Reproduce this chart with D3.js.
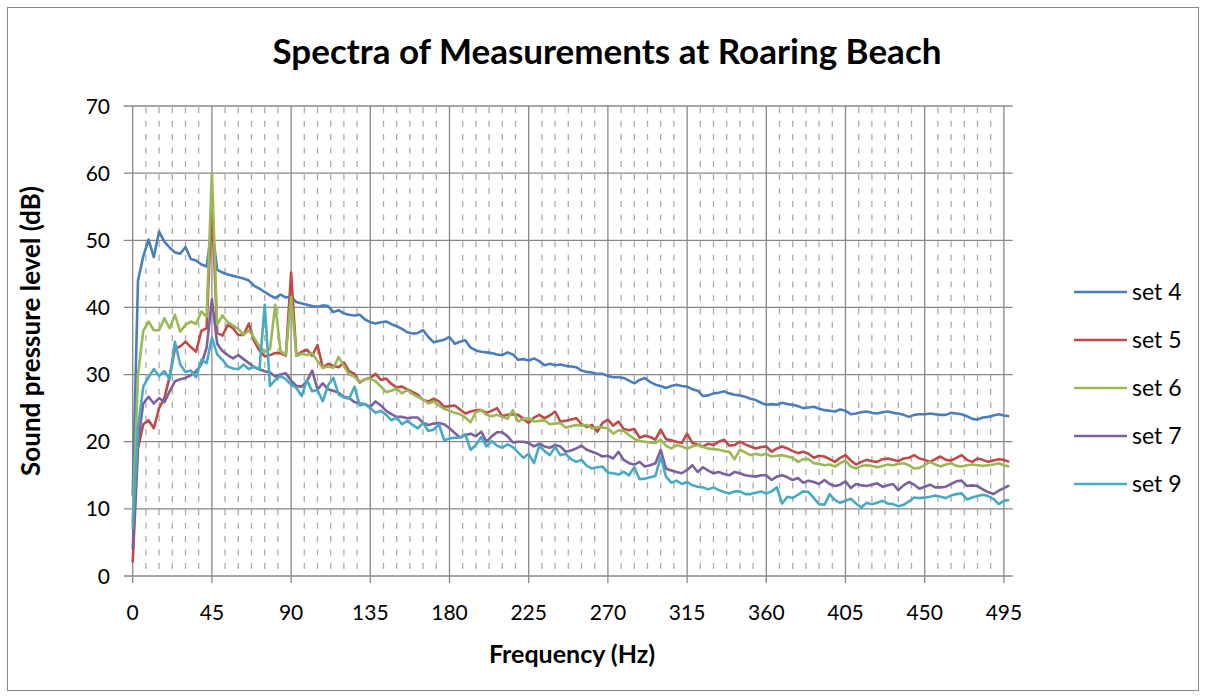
<!DOCTYPE html>
<html>
<head>
<meta charset="utf-8">
<script src="https://cdn.jsdelivr.net/npm/d3@7"></script>
<style>
  body { margin: 0; background: #fff; }
  text { font-family: Lato, "Noto Sans", sans-serif; fill: #000; }
</style>
</head>
<body>
<svg id="chart"></svg>
<script>
const width = 1205;
const height = 698;

// frequency bins (Hz)
const freq = [
  0,3,6,9,12,15,18,21,24,27,
  30,33,36,39,42,45,48,51,54,57,
  60,63,66,69,72,75,78,81,84,87,
  90,93,96,99,102,105,108,111,114,117,
  120,123,126,129,132,135,138,141,144,147,
  150,153,156,159,162,165,168,171,174,177,
  180,183,186,189,192,195,198,201,204,207,
  210,213,216,219,222,225,228,231,234,237,
  240,243,246,249,252,255,258,261,264,267,
  270,273,276,279,282,285,288,291,294,297,
  300,303,306,309,312,315,318,321,324,327,
  330,333,336,339,342,345,348,351,354,357,
  360,363,366,369,372,375,378,381,384,387,
  390,393,396,399,402,405,408,411,414,417,
  420,423,426,429,432,435,438,441,444,447,
  450,453,456,459,462,465,468,471,474,477,
  480,483,486,489,492,495,498
];

const set4 = [
  12,44,47.6,50.1,47.5,51.3,49.8,48.9,48.2,48.0,
  49.0,47.2,47.0,46.4,46.1,52,45.6,45.2,44.9,44.7,
  44.5,44.3,44.0,43.2,42.8,42.3,41.8,41.4,41.9,41.5,
  41.6,40.8,40.6,40.4,40.2,40.1,40.3,40.2,39.3,39.6,
  39.1,38.9,38.8,38.9,38.2,37.8,37.6,37.8,37.9,37.5,
  37.2,36.8,36.3,36.1,36.2,36.6,35.6,34.8,35.0,35.2,
  35.6,34.6,34.9,35.1,34.0,33.6,33.4,33.3,33.2,33.0,
  32.9,33.3,33.0,32.2,32.3,32.1,32.4,32.0,31.4,31.6,
  31.4,31.5,31.3,31.2,31.1,30.6,30.4,30.3,30.1,30.1,
  29.8,29.6,29.6,29.5,29.1,28.7,29.2,29.5,28.9,28.5,
  28.3,28.0,28.3,28.5,28.3,28.2,27.8,27.6,26.8,26.9,
  27.2,27.3,27.5,27.2,27.0,26.9,26.7,26.4,26.2,25.8,
  25.5,25.6,25.5,25.8,25.6,25.5,25.3,25.0,25.1,25.2,
  24.9,24.7,24.6,24.5,24.8,24.6,24.1,24.2,24.4,24.5,
  24.3,24.2,24.4,24.5,24.3,24.2,24.0,23.7,24.0,24.1,
  24.1,24.2,24.1,24.0,24.0,24.3,24.2,24.1,23.8,23.4,
  23.3,23.6,23.7,23.9,24.1,23.9,23.8
];

const set5 = [
  2,19,22.6,23.2,22.0,25.0,26.5,29.7,33.8,34.2,
  34.9,34.1,33.4,36.5,36.9,56,36.2,35.8,37.4,36.9,
  35.9,35.9,37.6,35.0,33.6,32.7,32.9,33.2,33.2,32.8,
  45.2,32.8,33.4,33.7,32.8,34.4,31.0,31.6,31.3,31.1,
  31.8,30.5,30.1,28.8,29.3,29.5,30.1,29.2,29.4,28.6,
  28.1,28.2,27.8,27.4,27.0,26.2,26.0,26.4,26.0,25.2,
  25.3,25.4,24.8,24.2,24.5,24.7,24.7,24.3,24.6,25.0,
  23.8,24.0,24.1,24.0,23.4,22.8,23.6,24.0,23.5,23.9,
  24.5,23.0,23.1,23.3,23.5,22.6,22.2,22.5,21.5,22.8,
  23.3,22.4,23.0,21.9,21.7,21.9,20.6,20.9,20.7,20.3,
  21.8,20.4,20.2,20.0,19.8,21.2,19.8,19.6,19.3,19.7,
  19.5,20.0,20.3,19.4,19.5,20.0,19.6,19.3,19.0,19.2,
  19.3,18.5,19.0,19.3,19.0,18.6,18.3,18.5,18.2,17.6,
  17.9,17.8,17.4,17.0,17.6,18.0,17.2,16.6,17.0,17.3,
  17.1,17.0,17.4,17.5,17.3,17.1,17.5,17.6,18.0,17.5,
  17.3,17.0,17.4,17.8,17.3,17.2,17.6,18.0,17.3,17.0,
  17.5,17.3,17.0,17.2,17.4,17.3,17.0
];

const set6 = [
  8,30,36.5,37.9,36.6,36.6,38.4,36.9,38.9,36.4,
  37.4,37.9,37.5,39.4,38.6,60,37.4,38.8,37.8,37.3,
  36.8,35.9,36.6,35.5,34.2,33.4,33.8,40.4,33.5,32.9,
  41.6,32.8,33.1,32.9,33.2,32.0,31.0,31.2,31.0,32.6,
  31.3,30.0,29.7,28.9,29.3,29.4,29.0,28.2,27.4,27.6,
  27.9,27.2,27.7,27.1,26.7,26.3,25.7,26.0,25.4,24.9,
  24.6,24.3,24.1,23.6,22.9,24.4,24.7,24.0,23.8,24.0,
  23.7,23.4,24.7,23.0,23.4,23.5,23.0,23.1,23.2,22.6,
  22.7,22.8,22.1,22.3,22.5,22.4,22.5,22.0,22.2,22.1,
  22.0,21.2,21.7,21.6,21.0,20.4,20.1,20.0,19.9,19.8,
  20.3,19.4,19.0,19.5,19.3,19.0,19.3,19.5,19.2,19.0,
  18.9,18.8,18.6,18.5,17.4,18.8,18.4,18.0,18.2,18.0,
  18.2,17.8,17.9,18.0,17.8,17.6,17.0,17.4,17.4,16.8,
  16.7,16.5,16.6,16.3,16.8,17.2,16.3,16.0,16.4,16.5,
  16.4,16.2,16.4,16.6,16.5,16.7,16.8,16.5,16.0,16.1,
  16.5,17.0,16.6,16.3,16.6,16.8,16.4,16.3,16.5,16.6,
  16.5,16.4,16.5,16.6,16.8,16.5,16.3
];

const set7 = [
  4,20,25.7,26.7,25.7,26.5,25.9,27.5,29.0,29.3,
  29.5,29.9,30.5,31.5,34.0,41.2,34.6,33.5,32.9,32.4,
  32.9,32.3,31.7,31.1,30.8,30.5,30.3,29.7,30.0,30.2,
  29.1,28.3,28.2,29.0,30.6,27.8,28.7,27.8,27.6,27.3,
  26.7,26.5,25.9,25.7,25.6,25.2,26.0,25.4,24.6,24.1,
  23.7,23.7,23.5,23.6,23.6,22.8,22.5,22.7,22.8,22.6,
  22.0,21.3,20.6,21.0,21.2,20.8,21.5,20.0,20.8,21.4,
  21.4,20.8,19.9,20.0,20.0,19.8,19.3,19.7,19.3,19.1,
  19.5,19.3,18.5,18.7,19.0,19.4,18.8,18.5,18.2,17.8,
  17.9,17.5,18.5,17.3,16.8,16.6,17.0,16.3,16.5,16.8,
  18.8,16.0,15.7,15.5,15.3,15.8,16.5,15.5,16.2,15.7,
  15.3,15.5,15.2,15.0,15.5,15.3,15.0,14.9,14.8,15.0,
  15.0,14.3,14.8,15.0,14.7,14.3,14.6,13.9,14.2,14.0,
  13.7,14.3,13.7,13.4,13.6,14.1,13.1,13.7,13.5,13.4,
  13.6,13.8,13.3,13.5,13.7,12.8,13.5,14.0,13.6,13.0,
  13.3,13.6,13.2,13.2,13.3,13.7,14.1,14.2,13.4,13.5,
  13.4,12.9,12.5,12.2,12.7,13.1,13.5
];

const set9 = [
  7,22,28.2,29.6,30.8,29.8,30.5,29.3,34.9,31.5,
  30.4,30.6,29.6,32.2,31.7,35.5,33.0,32.2,31.2,30.9,
  30.8,31.5,30.8,31.2,30.7,40.4,28.3,29.2,29.8,29.3,
  28.5,28.0,26.8,29.2,27.5,27.7,26.0,28.4,29.5,27.0,
  26.6,26.4,28.2,25.4,25.6,25.0,24.3,24.6,24.0,23.2,
  23.6,22.6,23.1,22.5,22.0,22.8,21.6,21.8,22.6,20.2,
  20.5,20.6,20.6,21.1,18.8,19.5,20.7,19.3,20.1,19.4,
  19.1,19.6,19.2,18.4,17.6,18.2,16.8,19.4,18.6,18.0,
  19.2,18.0,18.2,17.4,17.0,17.3,16.4,16.0,16.2,16.3,
  15.4,15.3,15.1,15.5,15.0,16.2,14.4,14.5,14.7,14.9,
  17.8,14.8,13.9,14.2,13.7,14.0,13.5,13.3,13.2,12.9,
  13.2,12.8,12.5,12.3,12.6,12.6,12.2,12.2,12.4,12.6,
  12.3,12.6,13.2,10.8,11.8,11.6,12.1,12.6,12.5,11.6,
  10.7,10.6,12.2,11.3,10.9,11.2,11.5,10.8,10.2,10.9,
  10.7,10.9,11.2,10.8,10.7,10.4,10.6,11.1,11.7,11.6,
  11.7,11.8,12.0,11.8,11.6,12.0,12.2,12.3,11.4,11.7,
  11.9,12.1,11.9,11.5,10.7,11.2,11.3
];

const seriesNames = ["set 4", "set 5", "set 6", "set 7", "set 9"];
const seriesValues = [set4, set5, set6, set7, set9];
const seriesColors = ["#4A7EBB", "#BE4B48", "#98B954", "#7D60A0", "#46AAC5"];
const xTicks = [0, 45, 90, 135, 180, 225, 270, 315, 360, 405, 450, 495];
const yTicks = [0, 10, 20, 30, 40, 50, 60, 70];

const svg = d3.select("#chart").attr("width", width).attr("height", height);

// chart area border
svg.append("rect").attr("x", 7.5).attr("y", 7.5).attr("width", 1191).attr("height", 683)
  .attr("fill", "#fff").attr("stroke", "#868686").attr("stroke-width", 1);

const plot = { left: 132.7, right: 1012.7, top: 106, bottom: 576 };
const x = d3.scaleLinear().domain([0, 500]).range([plot.left, plot.right]);
const y = d3.scaleLinear().domain([0, 70]).range([plot.bottom, plot.top]);

// minor vertical gridlines (dashed), every 7.5 Hz
const minor = d3.range(7.5, 500, 7.5).filter(v => v % 45 !== 0);
svg.append("g").selectAll("line").data(minor).enter().append("line")
  .attr("x1", d => x(d)).attr("x2", d => x(d))
  .attr("y1", plot.top).attr("y2", plot.bottom)
  .attr("stroke", "#ababab").attr("stroke-width", 1.3)
  .attr("stroke-dasharray", "6,7.4").attr("stroke-dashoffset", -1.3);

// major gridlines
svg.append("g").selectAll("line").data(yTicks).enter().append("line")
  .attr("x1", plot.left - 9).attr("x2", plot.right)
  .attr("y1", d => y(d)).attr("y2", d => y(d))
  .attr("stroke", "#878787").attr("stroke-width", 1.3);
svg.append("g").selectAll("line").data(xTicks).enter().append("line")
  .attr("x1", d => x(d)).attr("x2", d => x(d))
  .attr("y1", plot.top).attr("y2", plot.bottom + 7)
  .attr("stroke", "#878787").attr("stroke-width", 1.3);

// axis labels
svg.append("g").selectAll("text").data(yTicks).enter().append("text")
  .attr("x", 110).attr("y", d => y(d)).attr("dy", "0.36em")
  .attr("text-anchor", "end").style("font-size", "21px").text(d => d);
svg.append("g").selectAll("text").data(xTicks).enter().append("text")
  .attr("x", d => x(d)).attr("y", 620)
  .attr("text-anchor", "middle").style("font-size", "21px").text(d => d);

// series lines
const line = d3.line().x((d, i) => x(freq[i])).y(d => y(d));
svg.append("g").selectAll("path").data(seriesValues).enter().append("path")
  .attr("d", d => line(d))
  .attr("fill", "none")
  .attr("stroke", (d, i) => seriesColors[i])
  .attr("stroke-width", 2.6)
  .attr("stroke-linejoin", "round");

// title
svg.append("text").attr("x", 607).attr("y", 64).attr("text-anchor", "middle")
  .style("font-size", "35px").style("font-weight", "bold")
  .text("Spectra of Measurements at Roaring Beach");

svg.append("text").attr("x", 572).attr("y", 663).attr("text-anchor", "middle")
  .style("font-size", "25px").style("font-weight", "bold")
  .text("Frequency (Hz)");

svg.append("text").attr("transform", "translate(40,331) rotate(-90)")
  .attr("text-anchor", "middle")
  .style("font-size", "26px").style("font-weight", "bold")
  .text("Sound pressure level (dB)");

// legend
const legend = svg.append("g");
legend.selectAll("line").data(seriesNames).enter().append("line")
  .attr("x1", 1074).attr("x2", 1127)
  .attr("y1", (d, i) => 292 + i * 48).attr("y2", (d, i) => 292 + i * 48)
  .attr("stroke", (d, i) => seriesColors[i]).attr("stroke-width", 2.6);
legend.selectAll("text").data(seriesNames).enter().append("text")
  .attr("x", 1132).attr("y", (d, i) => 292 + i * 48).attr("dy", "0.36em")
  .style("font-size", "23px").text(d => d);
</script>
</body>
</html>
